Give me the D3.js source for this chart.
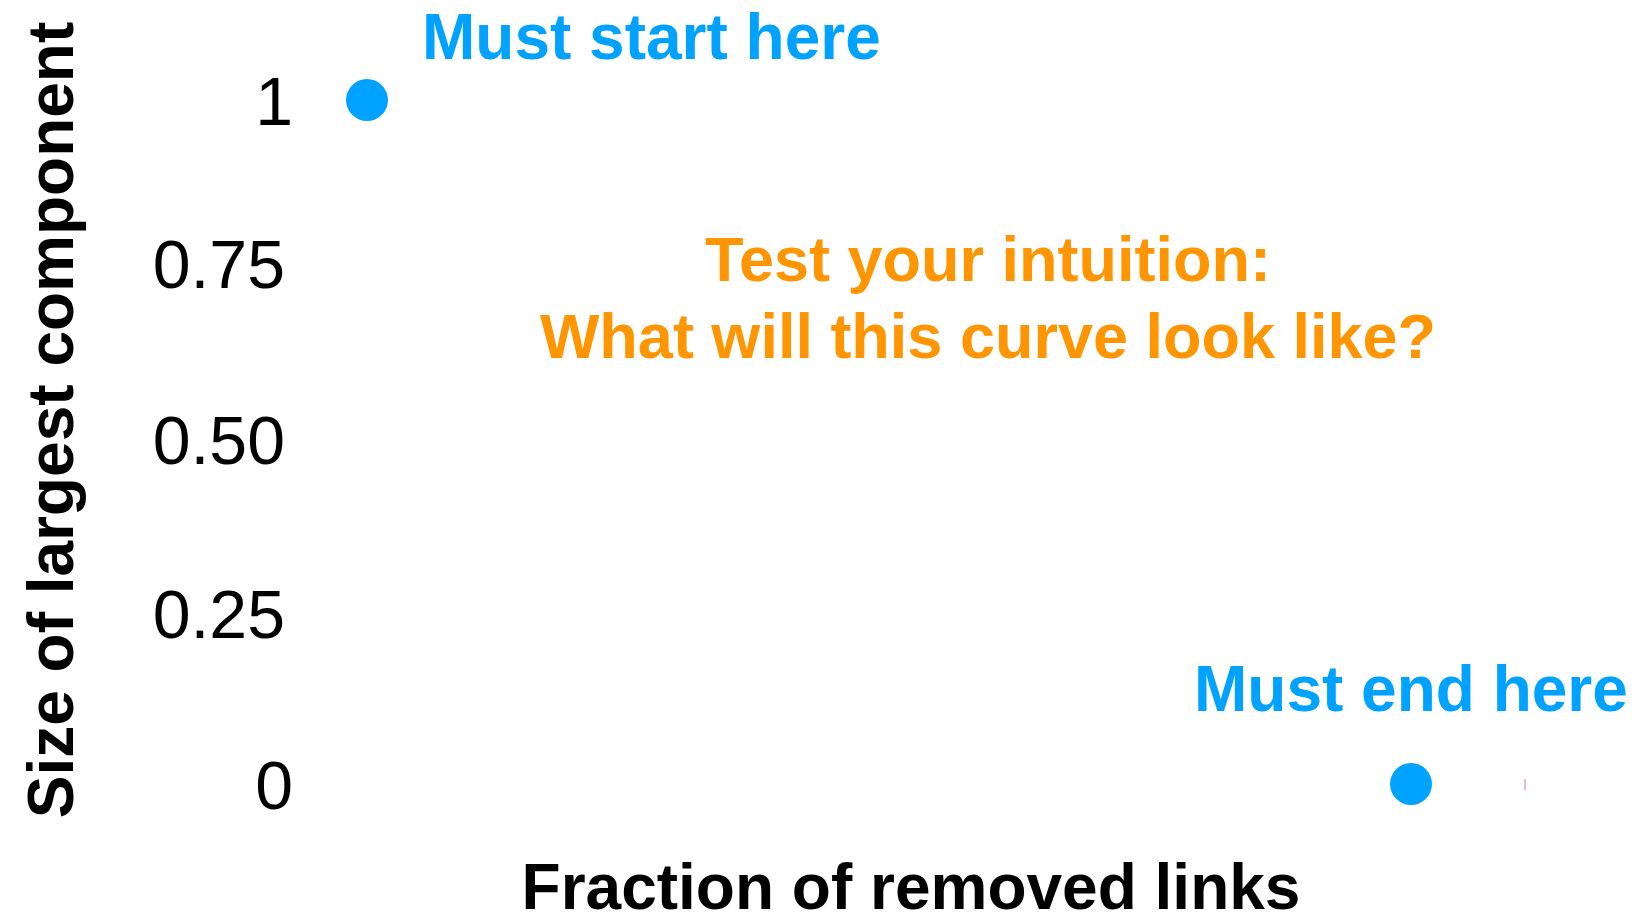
<!DOCTYPE html>
<html>
<head>
<meta charset="utf-8">
<script src="https://cdn.jsdelivr.net/npm/d3@7/dist/d3.min.js"></script>
<style>
  html, body { margin: 0; padding: 0; background: #ffffff; }
  svg { display: block; }
  text { font-family: "Liberation Sans", Arial, Helvetica, sans-serif; }
</style>
</head>
<body>
<svg id="chart" width="1635" height="923"></svg>
<script>
// ---- data ----
const pointLabels = ["Must start here", "Must end here"];
const pointX = [0, 1];
const pointY = [1, 0];
const yTickValues = [0, 0.25, 0.5, 0.75, 1];
const yTickLabels = ["0", "0.25", "0.50", "0.75", "1"];
const questionLines = ["Test your intuition:", "What will this curve look like?"];
const xTitle = "Fraction of removed links";
const yTitle = "Size of largest component";

// ---- styles ----
const BLUE = "#00a2ff";
const ORANGE = "#ff9500";

const svg = d3.select("#chart");

const x = d3.scaleLinear().domain([0, 1]).range([367, 1411]);
const y = d3.scaleLinear().domain([0, 1]).range([784, 100]);

// y axis (labels only, no line / ticks)
const yAxis = d3.axisLeft(y)
  .tickValues(yTickValues)
  .tickFormat((d, i) => yTickLabels[i])
  .tickSize(0)
  .tickPadding(0);

const gy = svg.append("g")
  .attr("transform", "translate(286,0)")
  .call(yAxis);
gy.select(".domain").remove();
gy.selectAll(".tick text")
  .attr("fill", "#000")
  .style("font-size", "68px")
  .style("font-family", "'Liberation Sans', Arial, sans-serif")
  .attr("dy", "0.36em")
  .attr("x", function(d, i) { return yTickLabels[i].length === 1 ? 7 : -1; })
  .attr("y", function(d) { return d === 0.75 ? -8 : (d === 0.5 ? -3 : 0); });

// points
const pts = pointX.map((v, i) => ({ x: v, y: pointY[i], label: pointLabels[i] }));
svg.append("g").selectAll("circle")
  .data(pts)
  .join("circle")
  .attr("cx", d => x(d.x))
  .attr("cy", d => y(d.y))
  .attr("r", 21)
  .attr("fill", BLUE);

// point annotations
svg.append("text")
  .attr("x", x(pts[0].x) + 55)
  .attr("y", y(pts[0].y) - 41)
  .attr("fill", BLUE)
  .style("font-size", "64px")
  .style("font-weight", "bold")
  .text(pts[0].label);

svg.append("text")
  .attr("x", x(pts[1].x) - 217)
  .attr("y", y(pts[1].y) - 73)
  .attr("fill", BLUE)
  .style("font-size", "64px")
  .style("font-weight", "bold")
  .text(pts[1].label);

// small faint mark right of end point
svg.append("line")
  .attr("x1", 1525).attr("x2", 1525)
  .attr("y1", y(0) - 5).attr("y2", y(0) + 6)
  .attr("stroke", "#e2a9b0")
  .attr("stroke-width", 1.5);

// central question
svg.append("g").selectAll("text")
  .data(questionLines)
  .join("text")
  .attr("x", 988)
  .attr("y", (d, i) => 281 + i * 77)
  .attr("text-anchor", "middle")
  .attr("fill", ORANGE)
  .style("font-size", "63px")
  .style("font-weight", "bold")
  .text(d => d);

// axis titles
svg.append("text")
  .attr("x", 911)
  .attr("y", 909)
  .attr("text-anchor", "middle")
  .attr("fill", "#000")
  .style("font-size", "64px")
  .style("font-weight", "bold")
  .text(xTitle);

svg.append("text")
  .attr("transform", "translate(73,420) rotate(-90)")
  .attr("text-anchor", "middle")
  .attr("fill", "#000")
  .style("font-size", "64px")
  .style("font-weight", "bold")
  .text(yTitle);
</script>
</body>
</html>
